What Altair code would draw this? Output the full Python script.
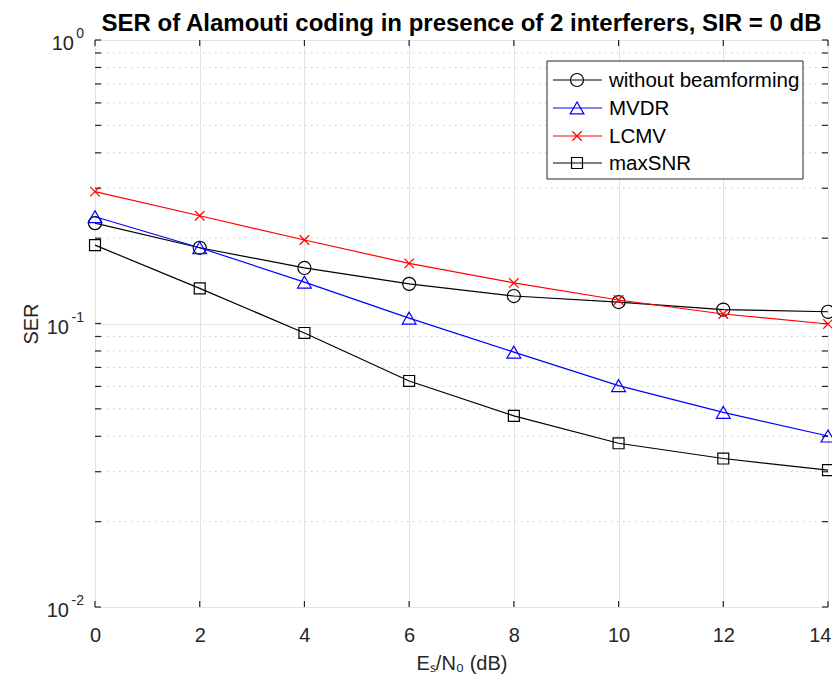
import altair as alt
import pandas as pd

# ---------------- data ----------------
snr = [0, 2, 4, 6, 8, 10, 12, 14]
ser_without = [0.226, 0.185, 0.157, 0.138, 0.125, 0.119, 0.112, 0.110]
ser_mvdr = [0.238, 0.185, 0.140, 0.1045, 0.0793, 0.0604, 0.0486, 0.0401]
ser_lcmv = [0.292, 0.240, 0.197, 0.163, 0.139, 0.121, 0.108, 0.0996]
ser_maxsnr = [0.189, 0.133, 0.0926, 0.0627, 0.0472, 0.0378, 0.0334, 0.0304]

series_names = ["without beamforming", "MVDR", "LCMV", "maxSNR"]
series_values = [ser_without, ser_mvdr, ser_lcmv, ser_maxsnr]
series_colors = ["#000000", "#0000FF", "#FF0000", "#000000"]
CROSS = "M-1,-1L1,1M1,-1L-1,1"
series_shapes = ["circle", "triangle-up", CROSS, "square"]
series_sizes = [170, 190, 90, 120]

x_ticks = [0, 2, 4, 6, 8, 10, 12, 14]
y_major = [0.01, 0.1, 1.0]
y_major_exp = ["-2", "-1", "0"]
y_minor = [m * 10.0 ** e for e in (-2, -1) for m in range(2, 10)]

TITLE = "SER of Alamouti coding in presence of 2 interferers, SIR = 0 dB"
X_TITLE = "Eₛ/N₀ (dB)"
Y_TITLE = "SER"

# ---------------- layout ----------------
W, H = 733, 567
FONT = "Liberation Sans, Arial, Helvetica, sans-serif"
AX = "#262626"
TICK = 6

xscale = alt.Scale(domain=[0, 14], nice=False, zero=False)
yscale = alt.Scale(type="log", domain=[0.01, 1], nice=False)


def X(field):
    return alt.X(
        field, type="quantitative", scale=xscale,
        axis=alt.Axis(values=x_ticks, title=X_TITLE, grid=True, gridColor="#E3E3E3",
                      gridWidth=1, ticks=False, tickSize=0, domain=False,
                      labelFont=FONT, labelFontSize=20, labelColor=AX, labelPadding=18,
                      labelFlush=False, labelOverlap=False,
                      labelAlign={"condition": {"test": "datum.value == 14", "value": "right"},
                                  "value": "center"},
                      labelOffset={"condition": {"test": "datum.value == 14", "value": 3},
                                   "value": 0},
                      titleFont=FONT, titleFontSize=20, titleFontWeight="normal",
                      titleColor=AX, titlePadding=8),
    )


def Y(field):
    return alt.Y(
        field, type="quantitative", scale=yscale,
        axis=alt.Axis(values=y_major, title=Y_TITLE, grid=True, gridColor="#E3E3E3",
                      gridWidth=1, ticks=False, tickSize=0, domain=False, labels=False,
                      titleFont=FONT, titleFontSize=20, titleFontWeight="normal",
                      titleColor=AX, titlePadding=54),
    )


layers = []

# minor grid (dotted)
minor_df = pd.DataFrame({"v": y_minor})
layers.append(
    alt.Chart(minor_df).mark_rule(color="#C8C8C8", strokeDash=[1.5, 4.5], strokeWidth=1)
    .encode(y=Y("v"), x=alt.value(0), x2=alt.value(W))
)

# ticks (inward) on all four sides
yt_df = pd.DataFrame({"v": y_major + y_minor})
xt_df = pd.DataFrame({"t": x_ticks})
layers.append(alt.Chart(yt_df).mark_rule(color=AX, strokeWidth=1.2)
              .encode(y=Y("v"), x=alt.value(0), x2=alt.value(TICK)))
layers.append(alt.Chart(yt_df).mark_rule(color=AX, strokeWidth=1.2)
              .encode(y=Y("v"), x=alt.value(W - TICK), x2=alt.value(W)))
layers.append(alt.Chart(xt_df).mark_rule(color=AX, strokeWidth=1.2)
              .encode(x=X("t"), y=alt.value(H), y2=alt.value(H - TICK)))
layers.append(alt.Chart(xt_df).mark_rule(color=AX, strokeWidth=1.2)
              .encode(x=X("t"), y=alt.value(0), y2=alt.value(TICK)))

# y tick labels 10^k with superscript
exp_w = {"0": 9, "-1": 14, "-2": 14}
for v, e in zip(y_major, y_major_exp):
    d = pd.DataFrame({"v": [v], "base": ["10"], "exp": [e]})
    layers.append(
        alt.Chart(d).mark_text(align="right", baseline="middle", font=FONT, fontSize=20,
                               color=AX, dy=4)
        .encode(y=Y("v"), x=alt.value(-12 - exp_w[e]), text="base:N")
    )
    layers.append(
        alt.Chart(d).mark_text(align="right", baseline="middle", font=FONT, fontSize=14,
                               color=AX, dy=-6)
        .encode(y=Y("v"), x=alt.value(-11), text="exp:N")
    )

# data series
for name, vals, col, shp, sz in zip(series_names, series_values, series_colors,
                                    series_shapes, series_sizes):
    df = pd.DataFrame({"snr": snr, "ser": vals})
    layers.append(alt.Chart(df).mark_line(color=col, strokeWidth=1.2)
                  .encode(x=X("snr"), y=Y("ser")))
    layers.append(alt.Chart(df).mark_point(shape=shp, size=sz, filled=False, color=col,
                                           strokeWidth=1.2, opacity=1)
                  .encode(x=X("snr"), y=Y("ser")))

# legend (manual, MATLAB style)
LX0, LX1, LY0, LY1 = 452, 708, 21, 139
rows_y = [40, 68, 96, 123]
box_df = pd.DataFrame({"a": [0]})
layers.append(alt.Chart(box_df).mark_rect(fill="white", stroke=AX, strokeWidth=1)
              .encode(x=alt.value(LX0), x2=alt.value(LX1), y=alt.value(LY0), y2=alt.value(LY1)))
for name, col, shp, sz, ry in zip(series_names, series_colors, series_shapes,
                                  series_sizes, rows_y):
    d = pd.DataFrame({"name": [name]})
    layers.append(alt.Chart(d).mark_rule(color=col, strokeWidth=1.2)
                  .encode(x=alt.value(458), x2=alt.value(507), y=alt.value(ry)))
    layers.append(alt.Chart(d).mark_point(shape=shp, size=sz, filled=False, color=col,
                                          strokeWidth=1.2, opacity=1)
                  .encode(x=alt.value(482), y=alt.value(ry)))
    layers.append(alt.Chart(d).mark_text(align="left", baseline="middle", font=FONT,
                                         fontSize=20.5, color="#000000", dy=1)
                  .encode(x=alt.value(514), y=alt.value(ry), text="name:N"))

chart = (
    alt.layer(*layers)
    .properties(
        width=W, height=H,
        title=alt.TitleParams(TITLE, font=FONT, fontSize=24, fontWeight="bold",
                              color="#000000", anchor="middle", frame="group", offset=8,
                              dy=17),
        autosize=alt.AutoSizeParams(type="none"),
        padding={"left": 87, "top": 32, "right": 4, "bottom": 70},
    )
    .configure_view(stroke=AX, strokeWidth=1.5)
    .configure(background="white")
)

chart.save("out.html", embed_options={"renderer": "svg", "actions": False})
